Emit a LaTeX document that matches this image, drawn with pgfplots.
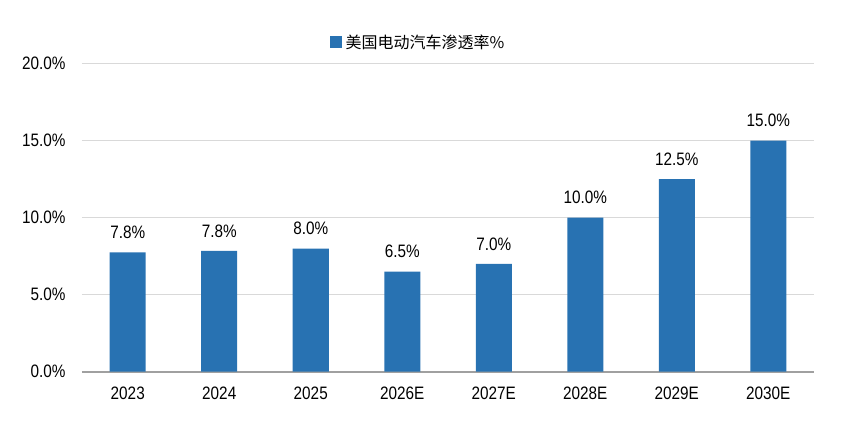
\documentclass[border=0pt]{standalone}
\usepackage{pgfplots}
\usepackage{pgfplotstable}
\pgfplotsset{compat=1.18}
\usepackage{fontspec}
\setmainfont{Liberation Sans}[FakeStretch=0.85]
\newfontfamily\cjk{Noto Sans CJK SC}
\definecolor{barblue}{RGB}{40,114,178}
\definecolor{gridgray}{RGB}{217,217,217}
\definecolor{axgray}{RGB}{160,160,160}
\pgfplotstableread{
x y label
0 7.75 7.8\%
1 7.85 7.8\%
2 8.0 8.0\%
3 6.5 6.5\%
4 7.0 7.0\%
5 10.0 10.0\%
6 12.5 12.5\%
7 15.0 15.0\%
}\datatable
\begin{document}
\begin{tikzpicture}
\path[use as bounding box] (-82pt,-65.3pt) rectangle (767pt,371.7pt);
\begin{axis}[
  scale only axis,
  width=732pt, height=308pt,
  xmin=-0.5, xmax=7.5,
  ymin=0, ymax=20,
  ytick={0,5,10,15,20},
  xtick={0,1,2,3,4,5,6,7},
  xticklabels={2023,2024,2025,2026E,2027E,2028E,2029E,2030E},
  /pgf/number format/assume math mode=true,
  yticklabel={\pgfmathprintnumber[fixed,fixed zerofill,precision=1]{\tick}\%},
  ticklabel style={font=\fontsize{18}{21}\selectfont, text=black},
  yticklabel style={xshift=-13pt},
  xticklabel style={yshift=-12pt},
  major tick length=0pt,
  axis x line*=bottom,
  axis y line*=left,
  y axis line style={draw=none},
  x axis line style={draw=axgray, line width=2.2pt, -},
  ymajorgrids,
  grid style={draw=gridgray, line width=1pt},
  ybar,
  bar width=36pt,
  legend style={at={(axis description cs:0.459,1.07)}, anchor=center, draw=none, fill=none, font=\cjk\fontsize{16}{18}\selectfont, inner sep=0pt},
  legend image code/.code={\fill[barblue] (0pt,-6pt) rectangle (12pt,6pt);},
  nodes near coords,
  point meta=explicit symbolic,
  every node near coord/.append style={font=\fontsize{18}{21}\selectfont, text=black, yshift=10pt},
]
\addplot[fill=barblue, draw=none] table[x=x, y=y, meta=label] {\datatable};
\addlegendentry{\hspace{2pt}美国电动汽车渗透率\%}
\end{axis}
\end{tikzpicture}
\end{document}
